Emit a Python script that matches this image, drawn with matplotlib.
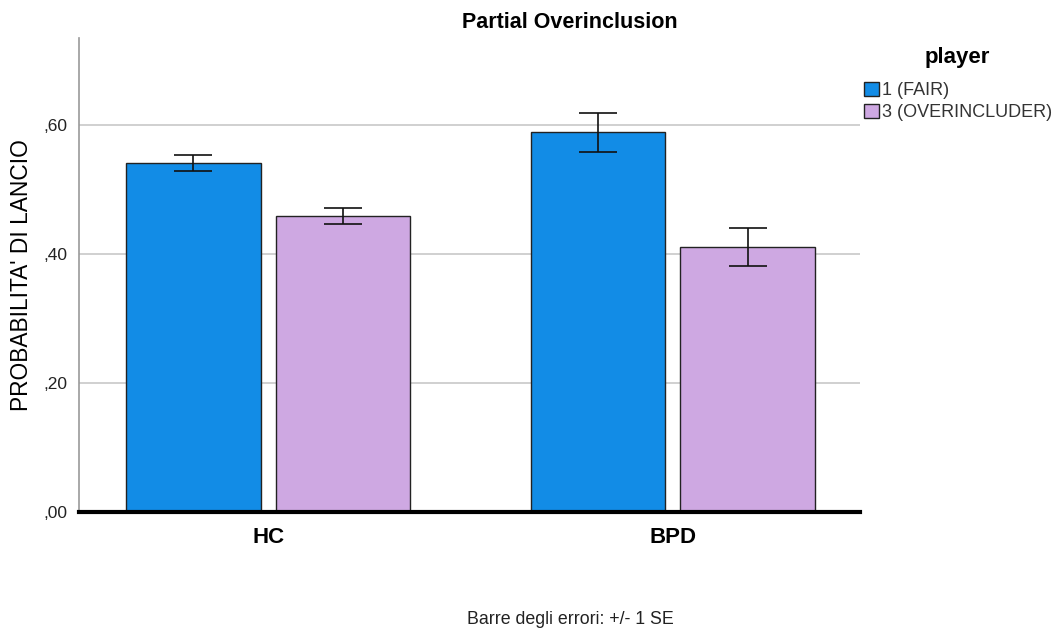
import numpy as np
import matplotlib
matplotlib.use('Agg')
import matplotlib.pyplot as plt

plt.rcParams['font.family'] = ['Liberation Sans', 'DejaVu Sans']

groups = ['HC', 'BPD']
players = ['1 (FAIR)', '3 (OVERINCLUDER)']
means = {
    '1 (FAIR)': [0.541, 0.589],
    '3 (OVERINCLUDER)': [0.459, 0.411],
}
se = {
    '1 (FAIR)': [0.012, 0.030],
    '3 (OVERINCLUDER)': [0.012, 0.030],
}
colors = ['#128ce6', '#cea8e2']
yticks = [0.0, 0.2, 0.4, 0.6]
yticklabels = [',00', ',20', ',40', ',60']

fig = plt.figure(figsize=(10.55, 6.32), dpi=100)
ax = fig.add_axes([79 / 1055, 1 - 512 / 632, (860 - 79) / 1055, (512 - 38) / 632])

x = np.arange(len(groups))
width = 0.333
offsets = [-0.185, 0.185]
for p, off, c in zip(players, offsets, colors):
    ax.bar(x + off, means[p], width, color=c, edgecolor='#222222',
           linewidth=1.0, label=p, zorder=3)
    ax.errorbar(x + off, means[p], yerr=se[p], fmt='none', ecolor='#111111',
                elinewidth=1.2, capsize=14, capthick=1.2, zorder=4)

ax.set_xlim(-0.467, 1.462)
ax.set_ylim(0, 0.735)
ax.set_yticks(yticks)
ax.set_yticklabels(yticklabels, fontsize=12.5, color='#222222')
ax.set_xticks(x)
ax.set_xticklabels(groups, fontsize=16, fontweight='bold')
ax.tick_params(axis='both', length=0)
ax.tick_params(axis='y', pad=8)
ax.tick_params(axis='x', pad=11)
ax.grid(axis='y', color='#c8c8c8', linewidth=1.2, zorder=0)

for s in ['top', 'right']:
    ax.spines[s].set_visible(False)
ax.spines['left'].set_color('#999999')
ax.spines['left'].set_linewidth(1.2)
ax.spines['bottom'].set_color('black')
ax.spines['bottom'].set_linewidth(3)
ax.spines['bottom'].set_zorder(5)

fig.text(22 / 1055, 1 - 275 / 632, "PROBABILITA' DI LANCIO", rotation=90,
         ha='center', va='center', fontsize=16.4)

fig.text(570 / 1055, 1 - 22 / 632, 'Partial Overinclusion', ha='center',
         va='center', fontsize=15.5, fontweight='bold')
fig.text(570 / 1055, 1 - 620 / 632, 'Barre degli errori: +/- 1 SE',
         ha='center', va='center', fontsize=12.8, color='#222222')

# legend title drawn separately so the gap to the entries matches
fig.text(957 / 1055, 1 - 58 / 632, 'player', ha='center', va='center',
         fontsize=16, fontweight='bold')
leg = fig.legend(loc='upper left',
                 bbox_to_anchor=(864 / 1055, 1 - 82 / 632),
                 frameon=False, fontsize=13,
                 handlelength=0.85, handleheight=0.85, handletextpad=0.15,
                 labelspacing=0.25, borderaxespad=0, borderpad=0)
for t in leg.get_texts():
    t.set_color('#333333')

fig.savefig('out.png', dpi=100)
